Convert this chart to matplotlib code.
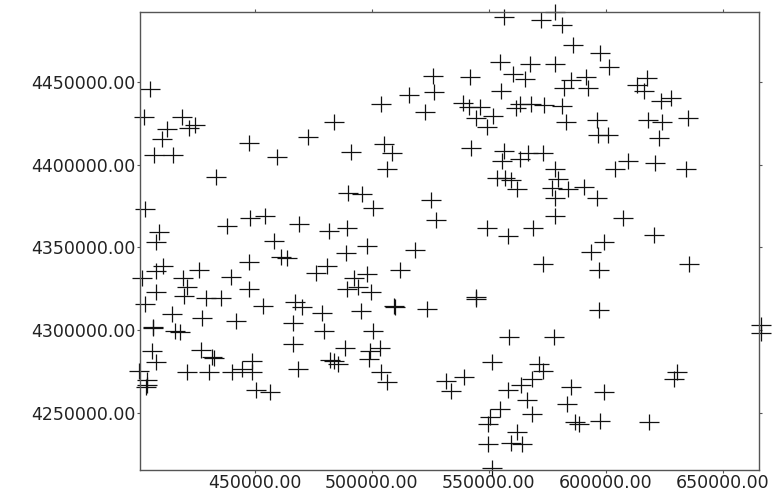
import numpy as np
import matplotlib
matplotlib.use("Agg")
import matplotlib.pyplot as plt
from matplotlib.ticker import FormatStrFormatter

# sample locations (easting, northing)
east = [
    405400, 402600, 419000, 412600, 421800, 424400, 410400, 406800, 415200, 447700,
    459300, 433600, 403300, 438000, 448000, 454300, 409000, 408000, 458300,
    526000, 526400, 516000, 504100, 522700, 484000, 472600, 491300, 505000, 508600,
    506300, 490000, 496000, 500600, 525400, 527600, 468900, 481800, 489300,
    556600, 572100, 578300, 581400, 586100, 597600, 554600, 567600, 578200, 542000,
    560100, 565600, 584900, 591600, 582000, 592500, 555300, 539100, 541400, 546400,
    544600, 551700, 549300, 561400, 563200, 567900, 573600, 581400, 583000, 596000,
    596700, 542400, 556300, 566700, 573100, 563300, 555600, 578200, 553300, 556900,
    559300, 561900, 579600, 577000, 584000, 590700, 596400, 578300, 578400, 549300,
    568800, 558300,
    601300, 617600, 613300, 616200, 623600, 627600, 617900, 624000, 635000, 622600,
    601000, 609600, 604000, 621100, 634100, 607300, 620700, 599300,
    461100, 463600, 410700, 408000, 401700, 419300, 426100, 440000, 447400, 421000,
    408000, 419700, 429300, 435400, 447700, 403300, 453600, 414700, 427400, 442200,
    406400, 406600, 416100, 417900, 406000, 408000, 427200, 431900, 432600, 421000,
    430300, 440400, 444700, 449000, 449000, 450700, 456700, 400700, 404100, 404100,
    403600,
    497900, 518300, 489000, 481000, 476100, 512100, 492600, 497900, 489300, 493900,
    499700, 467100, 470000, 478700, 495400, 509400, 510000, 523600, 466400, 479700,
    500700, 466200, 488600, 503600, 499300, 498600, 482100, 483900, 485700, 468600,
    504000, 506700,
    593600, 573100, 597100, 544600, 544600, 597100, 558700, 577700, 551200, 531900,
    539300, 533900, 571300, 573100, 568600, 563600, 558300, 566400, 568300, 585000,
    583400, 554600, 550400, 549700, 586900, 588600, 597400, 561900, 549700, 559300,
    564000, 551400,
    635400, 666100, 666100, 630300, 628900, 599000, 618300,
]
north = [
    4445600, 4429000, 4429000, 4421600, 4422000, 4424000, 4415600, 4406100, 4405700, 4413200,
    4404500, 4392800, 4373100, 4363200, 4368000, 4368900, 4359000, 4353200, 4353600,
    4453400, 4444100, 4442100, 4436900, 4431700, 4426000, 4416800, 4407700, 4412400, 4407100,
    4397400, 4383000, 4382300, 4373900, 4378900, 4366600, 4364200, 4359600, 4361600,
    4489100, 4487500, 4492200, 4484200, 4472300, 4467300, 4461700, 4460700, 4460700, 4453200,
    4454700, 4451800, 4451000, 4453200, 4446000, 4446200, 4444400, 4437300, 4435100, 4435100,
    4428000, 4429500, 4423000, 4434100, 4436900, 4436500, 4436100, 4435700, 4426000, 4427000,
    4418000, 4410300, 4408500, 4406900, 4407300, 4403300, 4401900, 4397400, 4392200, 4391800,
    4390800, 4385200, 4391200, 4385800, 4385400, 4386400, 4380100, 4380100, 4369000, 4362000,
    4362000, 4356600,
    4459100, 4452200, 4448200, 4444600, 4438700, 4440200, 4427000, 4425600, 4428400, 4416000,
    4417600, 4402300, 4397300, 4400900, 4397600, 4367600, 4357600, 4353500,
    4343900, 4343500, 4338800, 4335800, 4331400, 4331400, 4336400, 4332000, 4341400, 4326000,
    4323000, 4320700, 4319300, 4319300, 4325000, 4315900, 4314700, 4309900, 4307400, 4305800,
    4301800, 4301200, 4299600, 4298800, 4287100, 4280500, 4288100, 4284000, 4283400, 4275000,
    4275000, 4274600, 4276600, 4281400, 4275000, 4263900, 4262900, 4275600, 4270000, 4267000,
    4265700,
    4351100, 4348500, 4346500, 4339000, 4334400, 4336400, 4331400, 4334000, 4324800, 4326000,
    4323300, 4316700, 4314200, 4310200, 4311500, 4314400, 4314000, 4312800, 4304200, 4299400,
    4299400, 4291900, 4289100, 4289500, 4287100, 4282600, 4282000, 4281400, 4279600, 4276400,
    4275000, 4268600,
    4346900, 4340000, 4336400, 4320300, 4318700, 4312200, 4296100, 4296100, 4280700, 4269500,
    4271400, 4263300, 4279400, 4275600, 4270600, 4266900, 4263900, 4257900, 4249400, 4265900,
    4255400, 4252400, 4247800, 4243200, 4244400, 4243200, 4245200, 4238700, 4231100, 4231700,
    4231300, 4216600,
    4340000, 4303200, 4298200, 4275000, 4270600, 4262900, 4244600,
]

x_ticks = [450000, 500000, 550000, 600000, 650000]
y_ticks = [4250000, 4300000, 4350000, 4400000, 4450000]

plt.rcParams['font.family'] = ['DejaVu Sans']

fig = plt.figure(figsize=(7.78, 4.93), dpi=100)
ax = fig.add_axes([0.18, 0.047, 0.7956, 0.929])

# crosses: wide horizontal bar, shorter vertical bar
ax.plot(east, north, ls='none', marker='_', ms=15, mew=0.9, color='#111111', clip_on=False)
ax.plot(east, north, ls='none', marker='|', ms=11, mew=0.9, color='#111111', clip_on=False)

ax.set_xlim(401000, 665400)
ax.set_ylim(4215600, 4492300)
ax.set_xticks(x_ticks)
ax.set_yticks(y_ticks)
ax.xaxis.set_major_formatter(FormatStrFormatter('%.2f'))
ax.yaxis.set_major_formatter(FormatStrFormatter('%.2f'))

for s in ax.spines.values():
    s.set_color('#555555')
    s.set_linewidth(1.0)
ax.tick_params(direction='out', length=2.5, width=0.8, color='#555555',
               labelsize=12.5, labelcolor='#222222', pad=0.5,
               top=True, right=True, labeltop=False, labelright=False)

fig.savefig('out.png', dpi=100)
